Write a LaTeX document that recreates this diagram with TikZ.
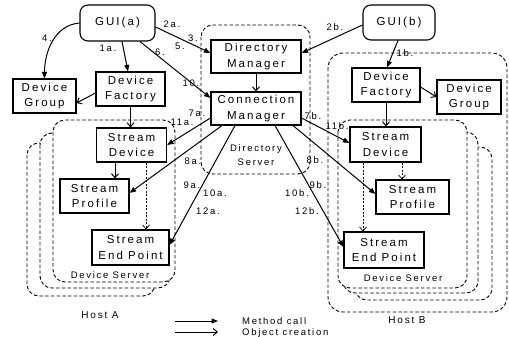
\documentclass[tikz,border=0pt]{standalone}
\usepackage{fontspec}
\setmainfont{Liberation Sans}[LetterSpace=18]
\usetikzlibrary{arrows.meta}
\begin{document}
\begin{tikzpicture}[x=1pt,y=-1pt,
  box/.style={draw, line width=1.1pt, fill=white, align=center, inner sep=0pt, font=\fontsize{11.5}{15.5}\selectfont},
  lab/.style={font=\fontsize{9.5}{11}\selectfont, inner sep=0pt},
  grp/.style={draw, dash pattern=on 3.5pt off 2.2pt, line width=0.9pt, rounded corners=12pt, fill=white},
  mcall/.style={line width=1pt, -{Triangle[length=6.5pt,width=5pt]}},
  ocre/.style={line width=1pt, -{Straight Barb[length=4pt,width=7pt]}},
  ocdash/.style={line width=0.7pt, dash pattern=on 2pt off 1.5pt, -{Straight Barb[length=4pt,width=7pt]}}]
\useasboundingbox (0,0) rectangle (509,337);

% containers
\draw[grp] (27,143) rectangle (155,296);
\draw[grp] (40,133) rectangle (170,288);
\draw[grp] (53,120) rectangle (175,282);
\draw[grp, fill=none, rounded corners=15pt] (328,53) rectangle (507,312);
\draw[grp] (355,147) rectangle (492,300);
\draw[grp] (343,132) rectangle (478,293);
\draw[grp] (338,120) rectangle (467,288);
\draw[grp] (201,25) rectangle (310,174);

% nodes
\node[box, minimum width=75pt, minimum height=36pt, rounded corners=8pt] (gA) at (117.5,23) {GUI(a)};
\node[box, minimum width=72pt, minimum height=35pt, rounded corners=8pt] (gB) at (399,22.5) {GUI(b)};
\node[box, minimum width=63pt, minimum height=34pt] (dgA) at (44.5,96) {Device\\Group};
\node[box, minimum width=69pt, minimum height=34pt] (dfA) at (130.5,89) {Device\\Factory};
\node[box, minimum width=70pt, minimum height=34pt] (sdA) at (131.5,145) {Stream\\Device};
\node[box, minimum width=69pt, minimum height=34pt] (spA) at (94.5,196) {Stream\\Profile};
\node[box, minimum width=77pt, minimum height=35pt] (sepA) at (130.5,247.5) {Stream\\End Point};
\node[box, minimum width=90pt, minimum height=33pt] (dm) at (256,56.5) {Directory\\Manager};
\node[box, minimum width=90pt, minimum height=33pt] (cm) at (256,108.5) {Connection\\Manager};
\node[box, minimum width=68pt, minimum height=34pt] (dfB) at (386,85) {Device\\Factory};
\node[box, minimum width=64pt, minimum height=34pt] (dgB) at (469,97) {Device\\Group};
\node[box, minimum width=71pt, minimum height=35pt] (sdB) at (385.5,144.5) {Stream\\Device};
\node[box, minimum width=73pt, minimum height=34pt] (spB) at (412.5,197) {Stream\\Profile};
\node[box, minimum width=80pt, minimum height=36pt] (sepB) at (384,250) {Stream\\End Point};

% container labels
\node[lab, align=center, font=\fontsize{9.5}{14}\selectfont] (dsl) at (256,155) {Directory\\Server};
\node[lab] (dsA) at (110,275) {Device Server};
\node[lab] (dsB) at (403,278) {Device Server};
\node[lab, font=\fontsize{10}{12}\selectfont] (hA) at (100,315) {Host A};
\node[lab, font=\fontsize{10}{12}\selectfont] (hB) at (407,320) {Host B};

% method calls
\draw[mcall] (gA.west) to[out=185,in=90] (dgA.north);
\draw[mcall] ([xshift=4.5pt]gA.south) -- ([xshift=-2.5pt]dfA.north);
\draw[mcall] ([yshift=-4pt]gA.east) -- ([yshift=3.5pt]dm.west);
\draw[mcall] ([xshift=22.5pt]gA.south) -- ([yshift=10.5pt]cm.west);
\draw[mcall] ([yshift=-2.5pt]gB.west) -- ([yshift=3.5pt]dm.east);
\draw[mcall] ([xshift=-1pt]gB.south) -- ([xshift=1pt]dfB.north);
\draw[mcall] ([yshift=-9.5pt]cm.west) -- (sdA.east);
\draw[mcall] ([xshift=-34pt]cm.south) -- ([yshift=3pt]spA.east);
\draw[mcall] ([xshift=-21pt]cm.south) -- ([yshift=2.5pt]sepA.east);
\draw[mcall] ([yshift=-9.5pt]cm.east) -- ([yshift=1.5pt]sdB.west);
\draw[mcall] ([xshift=37pt]cm.south) -- ([yshift=3pt]spB.west);
\draw[mcall] ([xshift=19pt]cm.south) -- ([yshift=3pt]sepB.west);

% object creation
\draw[ocre] (dm.south) -- (cm.north);
\draw[ocre] ([yshift=-4pt]dfA.west) -- ([yshift=-7pt]dgA.east);
\draw[ocre] ([yshift=-2pt]dfB.east) -- (dgB.west);
\coordinate (c1) at (dfA.south);
\draw[ocre] (c1) -- (c1 |- sdA.north);
\coordinate (c2) at (dfB.south);
\draw[ocre] (c2) -- (c2 |- sdB.north);
\coordinate (c3) at ([xshift=-16.5pt]sdA.south);
\draw[ocre] (c3) -- (c3 |- spA.north);
\coordinate (c4) at ([xshift=14.5pt]sdA.south);
\draw[ocdash] (c4) -- (c4 |- sepA.north);
\coordinate (c5) at ([xshift=16.5pt]sdB.south);
\draw[ocdash] (c5) -- (c5 |- spB.north);
\coordinate (c6) at ([xshift=-22.5pt]sdB.south);
\draw[ocdash] (c6) -- (c6 |- sepB.north);

% edge labels
\node[lab] (l4) at (47,38) {4.};
\node[lab] (l1a) at (108,48) {1a.};
\node[lab] (l2a) at (172,24) {2a.};
\node[lab] (l3) at (193,38) {3.};
\node[lab] (l5) at (180,46) {5.};
\node[lab] (l6) at (160,52) {6.};
\node[lab] (l10) at (191,83) {10.};
\node[lab] (l7a) at (197,113) {7a.};
\node[lab] (l11a) at (182,122) {11a.};
\node[lab] (l8a) at (193,161) {8a.};
\node[lab] (l9a) at (192,185) {9a.};
\node[lab] (l10a) at (215,193) {10a.};
\node[lab] (l12a) at (208,211) {12a.};
\node[lab] (l2b) at (335,27) {2b.};
\node[lab] (l1b) at (405,53) {1b.};
\node[lab] (l7b) at (313,116) {7b.};
\node[lab] (l11b) at (337,126) {11b.};
\node[lab] (l8b) at (315,160) {8b.};
\node[lab] (l9b) at (318,185) {9b.};
\node[lab] (l10b) at (297,193) {10b.};
\node[lab] (l12b) at (307,211) {12b.};

% legend
\coordinate (m1) at (175,321);
\coordinate (m2) at (218,321);
\coordinate (o1) at (175,332);
\coordinate (o2) at (218,332);
\draw[mcall] (m1) -- (m2);
\draw[ocre] (o1) -- (o2);
\node[lab, anchor=west] (lm) at (242,321) {Method call};
\node[lab, anchor=west] (lo) at (242,333) {Object creation};
\end{tikzpicture}
\end{document}
